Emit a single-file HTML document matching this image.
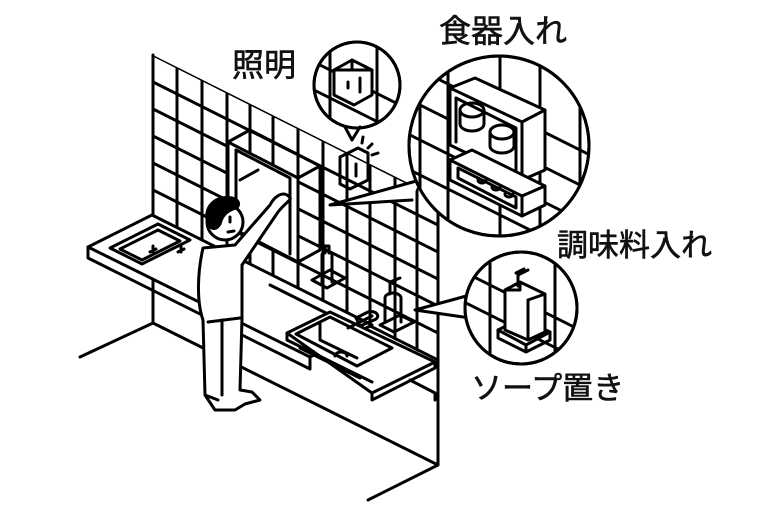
<!DOCTYPE html>
<html><head><meta charset="utf-8"><style>
html,body{margin:0;padding:0;background:#fff}
svg{display:block}
text{font-family:"Liberation Sans","Noto Sans CJK JP",sans-serif;fill:#111;stroke:#111;stroke-width:0.6}
</style></head><body>
<svg width="768" height="512" viewBox="0 0 768 512" xmlns="http://www.w3.org/2000/svg">
<defs>
<clipPath id="wall"><polygon points="153,55 438,198 438,362 153,218"/></clipPath>
<clipPath id="c1"><circle cx="357" cy="85" r="43"/></clipPath>
<clipPath id="c2"><circle cx="499" cy="146" r="90"/></clipPath>
<clipPath id="c3"><circle cx="521" cy="308" r="56"/></clipPath>
</defs>
<g stroke="#000" stroke-width="3" fill="none" stroke-linecap="round" stroke-linejoin="round">
<g clip-path="url(#wall)">
<path d="M153,55 L438,198 M153,82 L438,225 M153,109 L438,252 M153,136 L438,279 M153,163 L438,306 M153,190 L438,333 M153,217 L438,360
M177,40 V400 M202,40 V400 M227,40 V400 M250,40 V400 M273,40 V400 M298,40 V400 M323,40 V400 M347,40 V400 M370,40 V400 M395,40 V400 M417,40 V400"/>
</g>
<path d="M153,55 V323 M438,198 V465 M153,323 L438,465 M80,357 L153,323 M438,465 L368,500"/>
<polygon points="228,142 298,178 298,262 228,226" fill="#fff"/>
<path d="M236,150 L290,178 L290,254 M236,150 V220"/>
<path d="M298,178 L320,166 L320,250 L298,262"/>
<path d="M240,180 L258,170 M320,166 L250,130 L228,142"/>
<polygon points="152,215 372,325 310,357 88,247" fill="#fff"/>
<path d="M88,247 V258 L310,369 V357 M110,248 L158,224 L190,240 L142,264 Z M120,249 L158,230 L180,241 L142,260 Z"/>
<path d="M150,252 l6,-3 m-3,-3 l0,6 M178,252 l6,-3 m-3,-3 l0,6"/>
<path d="M270,285 L330,315"/>
<path d="M312,280 L330,270 L345,278 L327,288 Z M322,282 V255 a5,4 0 0 1 10,0 V282 M325,253 V246 h4 V253"/>
<polygon points="287,333 330,312 435,362 372,393" fill="#fff"/>
<path d="M287,333 V340 L372,382 M372,393 V400 L435,368 V362 M372,393 V400"/>
<path d="M296,334 L330,317 L392,348 L357,366 Z M320,322 V340 L357,358 M335,356 a6,4 0 0 1 12,0"/>
<path d="M300,348 L360,378 M410,380 L435,393 V400"/>
<path d="M348,328 L372,316 M356,318 L368,312 a6,4 0 0 1 6,8 L360,326 Z"/>
<path d="M380,325 L400,315 L414,322 L394,332 Z M385,322 V298 a8,5 0 0 1 16,0 V322 M390,294 V282 l10,-4"/>
<path d="M340,157 L358,148 L368,153 V180 L350,189 L340,184 Z M347,168 v8 M356,164 v12"/>
<path d="M368,148 l4,-4 M372,155 l6,-2 M362,143 l1,-6"/>
<path d="M203,248 C198,270 196,300 203,320 L205,395 L215,410 L235,410 L245,404 L260,400 L252,392 L240,390 L242,318 V265 L276,215 C282,205 292,200 290,198 C285,190 275,195 270,205 L235,245 Z" fill="#fff"/>
<path d="M222,320 V395 M205,395 L218,400 M208,322 L240,318"/>
<circle cx="225" cy="222" r="18" fill="#fff"/>
<path d="M208,224 C202,205 218,195 232,198 C240,200 240,206 236,208 C228,210 222,215 220,224 C216,230 212,230 208,224 Z" fill="#000"/>
<path d="M230,217 v5 M228,232 l6,-1"/>
<circle cx="357" cy="85" r="43" fill="#fff"/>
<path d="M345,127 L352,140 L360,127" fill="#fff"/>
<g clip-path="url(#c1)">
<path d="M310,60 L400,105 M310,88 L400,133 M330,40 V130 M377,40 V130"/>
<path d="M334,70 L352,60 L372,70 V95 L354,105 L334,95 Z" fill="#fff"/>
<path d="M352,60 V70 L334,70 M352,70 L372,70 M348,82 v6 M360,78 v14"/>
</g>
<circle cx="357" cy="85" r="43"/>
<polygon points="420,180 330,205 412,200" fill="#fff" stroke="none"/>
<path d="M420,180 L330,205 L412,200"/>
<circle cx="499" cy="146" r="90" fill="#fff"/>
<g clip-path="url(#c2)">
<path d="M400,60 L600,160 M400,95 L600,195 M400,130 L600,230 M400,165 L600,265 M420,40 V250 M448,40 V250 M500,40 V250 M540,40 V250 M580,40 V250"/>
<polygon points="450,88 475,78 545,110 545,170 522,180 450,145" fill="#fff"/>
<path d="M450,88 L522,122 V180 M522,122 L545,110 M456,98 L516,128 V172 M456,98 V142"/>
<ellipse cx="472" cy="110" rx="12" ry="7"/><path d="M460,110 v14 a12,7 0 0 0 24,0 v-14"/>
<ellipse cx="502" cy="132" rx="12" ry="7"/><path d="M490,132 v14 a12,7 0 0 0 24,0 v-14"/>
<polygon points="450,160 472,150 545,186 545,205 522,216 450,180" fill="#fff"/>
<path d="M450,160 L522,196 V216 M522,196 L545,186 M458,168 L516,197 V208 L458,178 Z"/>
<path d="M478,180 a4,3 0 0 0 8,0 M492,187 a4,3 0 0 0 8,0 M505,194 a4,3 0 0 0 8,0"/>
</g>
<circle cx="499" cy="146" r="90"/>
<polygon points="470,295 415,310 470,318" fill="#fff" stroke="none"/>
<path d="M470,295 L415,310 L470,318"/>
<circle cx="521" cy="308" r="56" fill="#fff"/>
<g clip-path="url(#c3)">
<path d="M460,270 L580,330 M460,300 L580,360 M490,250 V370 M555,250 V370"/>
<polygon points="498,330 522,318 550,332 526,345" fill="#fff"/>
<path d="M498,330 V338 L526,352 L550,340 V332 M526,345 V352"/>
<path d="M505,330 V290 L520,282 L545,294 V332 L528,340 Z M520,282 V290 L505,290 M528,300 V340 M528,300 L545,294" fill="#fff"/>
<path d="M518,286 V275 l10,-5 M516,273 l8,-4"/>
</g>
<circle cx="521" cy="308" r="56"/>
</g>
<text x="232" y="76" font-size="32">照明</text>
<text x="439" y="42" font-size="32">食器入れ</text>
<text x="557" y="256" font-size="31">調味料入れ</text>
<text x="471" y="399" font-size="31">ソープ置き</text>
</svg>
</body></html>
